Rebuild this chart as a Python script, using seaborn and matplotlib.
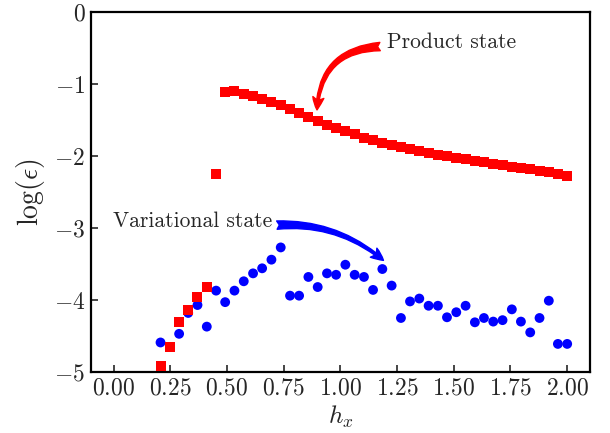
import numpy as np
import pandas as pd
import matplotlib
matplotlib.use("Agg")
import matplotlib.pyplot as plt
import seaborn as sns
from matplotlib.ticker import ScalarFormatter

hx = [0.207, 0.248, 0.289, 0.329, 0.370, 0.411, 0.452, 0.492, 0.533, 0.574,
      0.615, 0.655, 0.696, 0.737, 0.778, 0.818, 0.859, 0.900, 0.941, 0.981,
      1.022, 1.063, 1.104, 1.144, 1.185, 1.226, 1.267, 1.307, 1.348, 1.389,
      1.430, 1.470, 1.511, 1.552, 1.593, 1.633, 1.674, 1.715, 1.756, 1.796,
      1.837, 1.878, 1.919, 1.959, 2.000]

product_err = [-4.91, -4.65, -4.31, -4.14, -3.96, -3.82, -2.25,
               -1.11, -1.10, -1.14, -1.17, -1.21, -1.25, -1.29, -1.35, -1.40, -1.455,
               -1.51, -1.565, -1.61, -1.655, -1.70, -1.745, -1.78, -1.815, -1.85, -1.875,
               -1.90, -1.93, -1.96, -1.98, -2.005, -2.03, -2.045, -2.065, -2.09, -2.11,
               -2.13, -2.15, -2.17, -2.185, -2.205, -2.22, -2.245, -2.28]

variational_err = [-4.59, np.nan, -4.47, -4.18, -4.07, -4.37, -3.87, -4.03, -3.87, -3.74,
                   -3.63, -3.56, -3.44, -3.27, -3.94, -3.94, -3.68, -3.82, -3.63, -3.65,
                   -3.51, -3.65, -3.68, -3.86, -3.57, -3.80, -4.25, -4.02, -3.98, -4.08,
                   -4.08, -4.24, -4.17, -4.08, -4.31, -4.25, -4.30, -4.28, -4.13, -4.30,
                   -4.45, -4.25, -4.01, -4.61, -4.61]

xticks = [0.00, 0.25, 0.50, 0.75, 1.00, 1.25, 1.50, 1.75, 2.00]
yticks = [0, -1, -2, -3, -4, -5]

sns.set_style("white")
plt.rcParams.update({
    "font.family": ["serif"],
    "font.serif": ["cmr10", "DejaVu Serif"],
    "mathtext.fontset": "cm",
    "axes.formatter.use_mathtext": True,
    "axes.unicode_minus": True,
})

df_p = pd.DataFrame({"hx": hx, "err": product_err})
df_v = pd.DataFrame({"hx": hx, "err": variational_err}).dropna()

fig = plt.figure(figsize=(6.10, 4.33), dpi=100)
ax = fig.add_axes([0.149, 0.1409, 0.818, 0.8314])

sns.scatterplot(data=df_v, x="hx", y="err", ax=ax, color="#0000ff", marker="o",
                s=50, edgecolor="none", zorder=2)
sns.scatterplot(data=df_p, x="hx", y="err", ax=ax, color="#ff0000", marker="s",
                s=52, edgecolor="none", zorder=3)

ax.set_xlim(-0.1, 2.1)
ax.set_ylim(-5, 0)
ax.set_xticks(xticks)
ax.set_yticks(yticks)
ax.xaxis.set_major_formatter(ScalarFormatter(useMathText=True))
ax.yaxis.set_major_formatter(ScalarFormatter(useMathText=True))
ax.tick_params(direction="in", length=5, width=1.2, labelsize=17,
               top=False, right=False, bottom=True, left=True, pad=4)
for sp in ax.spines.values():
    sp.set_linewidth(1.6)
    sp.set_color("black")

ax.set_xlabel(r"$h_x$", fontsize=18, labelpad=3)
ax.set_ylabel(r"$\log(\epsilon)$", fontsize=20, labelpad=5)

ax.text(1.205, -0.42, "Product state", fontsize=15.5, va="center", ha="left")
ax.annotate("", xy=(0.897, -1.36), xytext=(1.175, -0.48),
            arrowprops=dict(arrowstyle="fancy,head_length=0.45,head_width=0.4,tail_width=0.3",
                            connectionstyle="arc3,rad=0.45", color="#ff0000",
                            mutation_scale=20, shrinkA=0, shrinkB=0))

ax.text(0.70, -2.91, "Variational state", fontsize=15.5, va="center", ha="right")
ax.annotate("", xy=(1.19, -3.45), xytext=(0.72, -2.96),
            arrowprops=dict(arrowstyle="fancy,head_length=0.45,head_width=0.4,tail_width=0.3",
                            connectionstyle="arc3,rad=-0.2", color="#0000ff",
                            mutation_scale=20, shrinkA=0, shrinkB=0))

fig.savefig("out.png", dpi=100)
